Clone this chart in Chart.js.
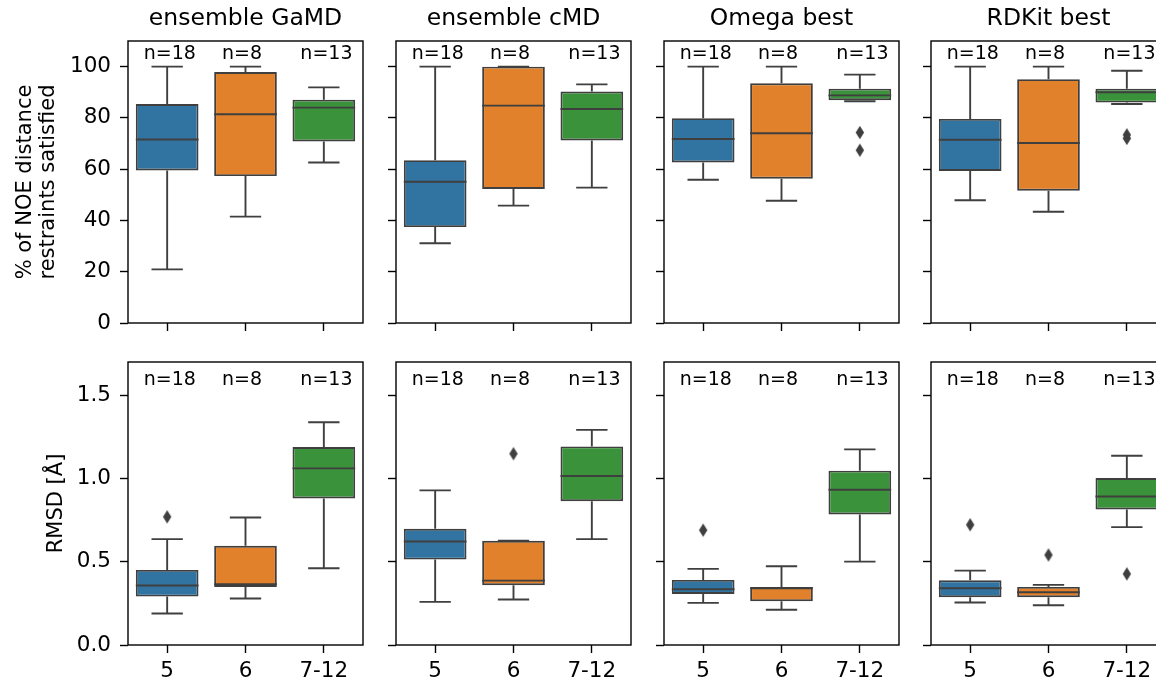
<!DOCTYPE html>
<html>
<head>
<meta charset="utf-8">
<script src="https://cdn.jsdelivr.net/npm/chart.js@4"></script>
<style>
  html, body { margin: 0; padding: 0; background: #fff; overflow: hidden; }
  body { width: 1156px; height: 681px; position: relative; }
  canvas { position: absolute; }
</style>
</head>
<body>
<script>
// ---- data -------------------------------------------------------------
const categories = ['5', '6', '7-12'];
const nCounts = [18, 8, 13];
const panelTitles = ['ensemble GaMD', 'ensemble cMD', 'Omega best', 'RDKit best'];
const boxColors = ['#3274a1', '#e1812c', '#3a923a'];

const noeTicks = [0, 20, 40, 60, 80, 100];
const rmsdTicks = [0, 0.5, 1.0, 1.5];

// box statistics per ring-size group: [whisker low, Q1, median, Q3, whisker high]
const noeGaMD  = [[20.9, 59.5, 71.6, 85.4, 100], [41.5, 57.3, 81.4, 97.9, 100], [62.6, 70.8, 84.0, 87.1, 91.9]];
const noeCMD   = [[31.1, 37.4, 55.1, 63.5, 100], [45.8, 52.3, 84.8, 100, 100], [52.8, 71.2, 83.5, 90.3, 93.1]];
const noeOmega = [[55.9, 62.6, 71.8, 79.9, 100], [47.7, 56.3, 74.0, 93.5, 100], [86.5, 86.9, 88.8, 91.4, 96.9]];
const noeRDKit = [[47.9, 59.3, 71.5, 79.6, 100], [43.4, 51.6, 70.2, 95.1, 100], [85.4, 86.0, 90.0, 91.4, 98.4]];

const noeGaMDOut  = [[], [], []];
const noeCMDOut   = [[], [], []];
const noeOmegaOut = [[], [], [74.3, 67.4]];
const noeRDKitOut = [[], [], [73.4, 72.0]];

const rmsdGaMD  = [[0.189, 0.291, 0.357, 0.451, 0.636], [0.279, 0.349, 0.365, 0.596, 0.766], [0.461, 0.880, 1.061, 1.189, 1.338]];
const rmsdCMD   = [[0.259, 0.513, 0.622, 0.698, 0.929], [0.273, 0.359, 0.387, 0.626, 0.626], [0.636, 0.864, 1.015, 1.193, 1.292]];
const rmsdOmega = [[0.253, 0.307, 0.335, 0.391, 0.457], [0.212, 0.263, 0.341, 0.349, 0.473], [0.501, 0.784, 0.933, 1.047, 1.175]];
const rmsdRDKit = [[0.255, 0.287, 0.341, 0.389, 0.447], [0.239, 0.287, 0.317, 0.349, 0.361], [0.708, 0.814, 0.892, 1.003, 1.137]];

const rmsdGaMDOut  = [[0.770], [], []];
const rmsdCMDOut   = [[], [1.149], []];
const rmsdOmegaOut = [[0.690], [], []];
const rmsdRDKitOut = [[0.722], [0.541], [0.427]];

// ---- layout -------------------------------------------------------------
const FONT = "'DejaVu Sans', sans-serif";
const EDGE = '#3f3f3f';
const colLefts = [128, 396, 664, 931];
const plotW = 235;
const rows = [
  { top: 41, bottom: 323, max: 110, ticks: noeTicks, fmt: v => String(v), nY: 104.8,
    yTitle: ['% of NOE distance', 'restraints satisfied'], yTitlePad: 14,
    stats: [noeGaMD, noeCMD, noeOmega, noeRDKit],
    outliers: [noeGaMDOut, noeCMDOut, noeOmegaOut, noeRDKitOut] },
  { top: 362, bottom: 645, max: 1.7, ticks: rmsdTicks, fmt: v => v.toFixed(1), nY: 1.59,
    yTitle: 'RMSD [Å]', yTitlePad: 45,
    stats: [rmsdGaMD, rmsdCMD, rmsdOmega, rmsdRDKit],
    outliers: [rmsdGaMDOut, rmsdCMDOut, rmsdOmegaOut, rmsdRDKitOut] }
];

// thin diamond marker for fliers
const diamond = document.createElement('canvas');
diamond.width = 10; diamond.height = 15;
(() => {
  const c = diamond.getContext('2d');
  c.fillStyle = EDGE;
  c.beginPath();
  c.moveTo(5, 0.8); c.lineTo(9.2, 7.5); c.lineTo(5, 14.2); c.lineTo(0.8, 7.5);
  c.closePath(); c.fill();
})();

// whiskers, caps and medians drawn through the chart's own scales
const boxWhiskers = {
  id: 'boxWhiskers',
  afterDatasetsDraw(chart, args, opts) {
    const { ctx, scales: { x, y } } = chart;
    ctx.save();
    ctx.strokeStyle = EDGE;
    ctx.lineWidth = 1.9;
    ctx.lineCap = 'butt';
    opts.stats.forEach((s, i) => {
      const [lo, q1, med, q3, hi] = s;
      const cx = x.getPixelForValue(i);
      const capL = x.getPixelForValue(i - 0.2), capR = x.getPixelForValue(i + 0.2);
      const boxL = x.getPixelForValue(i - 0.4), boxR = x.getPixelForValue(i + 0.4);
      ctx.beginPath();
      ctx.moveTo(cx, y.getPixelForValue(q3)); ctx.lineTo(cx, y.getPixelForValue(hi));
      ctx.moveTo(cx, y.getPixelForValue(q1)); ctx.lineTo(cx, y.getPixelForValue(lo));
      ctx.moveTo(capL, y.getPixelForValue(hi)); ctx.lineTo(capR, y.getPixelForValue(hi));
      ctx.moveTo(capL, y.getPixelForValue(lo)); ctx.lineTo(capR, y.getPixelForValue(lo));
      ctx.moveTo(boxL, y.getPixelForValue(med)); ctx.lineTo(boxR, y.getPixelForValue(med));
      ctx.stroke();
    });
    ctx.restore();
  }
};

// group size annotations
const groupCounts = {
  id: 'groupCounts',
  afterDatasetsDraw(chart, args, opts) {
    const { ctx, scales: { x, y } } = chart;
    ctx.save();
    ctx.font = `19px ${FONT}`;
    ctx.fillStyle = '#000';
    ctx.textAlign = 'left';
    ctx.textBaseline = 'middle';
    nCounts.forEach((n, i) => {
      ctx.fillText('n=' + n, x.getPixelForValue(i - 0.3), y.getPixelForValue(opts.y));
    });
    ctx.restore();
  }
};

// axes frame (all four spines)
const frame = {
  id: 'frame',
  afterDraw(chart) {
    const { ctx, chartArea: a } = chart;
    ctx.save();
    ctx.strokeStyle = '#000';
    ctx.lineWidth = 1.4;
    ctx.strokeRect(a.left, a.top, a.right - a.left, a.bottom - a.top);
    ctx.restore();
  }
};

const TITLE_SIZE = 23.5;
const TICK_SIZE = 21.5;

rows.forEach((row, r) => {
  colLefts.forEach((left, c) => {
    const L = c === 0 ? left : 40;
    const R = 12;
    const topSpace = r === 0 ? row.top : 14;
    const xH = r === 0 ? 14 : 681 - row.bottom;
    const plotH = row.bottom - row.top;
    const cv = document.createElement('canvas');
    const W = L + plotW + R, H = topSpace + plotH + xH;
    cv.width = W; cv.height = H;
    cv.style.left = (left - L) + 'px';
    cv.style.top = (row.top - topSpace) + 'px';
    cv.style.width = W + 'px'; cv.style.height = H + 'px';
    document.body.appendChild(cv);

    const stats = row.stats[c];
    const outs = row.outliers[c];
    const outPts = [];
    outs.forEach((vals, i) => vals.forEach(v => outPts.push({ x: categories[i], y: v })));

    const titlePadTop = 5;
    const titlePadBottom = topSpace - titlePadTop - TITLE_SIZE * 1.2;

    new Chart(cv, {
      type: 'bar',
      data: {
        labels: categories,
        datasets: [
          {
            type: 'bar',
            data: stats.map(s => [s[1], s[3]]),
            backgroundColor: boxColors,
            borderColor: EDGE,
            borderWidth: 1.9,
            borderSkipped: false,
            categoryPercentage: 0.8,
            barPercentage: 1.0,
            order: 2
          },
          {
            type: 'line',
            data: outPts,
            showLine: false,
            pointStyle: diamond,
            pointRadius: 5,
            pointHoverRadius: 5,
            order: 1
          }
        ]
      },
      options: {
        responsive: false,
        devicePixelRatio: 1,
        animation: false,
        events: [],
        layout: { padding: { left: 0, right: R, top: r === 0 ? 0 : topSpace, bottom: 0 } },
        scales: {
          x: {
            type: 'category',
            offset: true,
            grid: { display: true, drawOnChartArea: false, drawTicks: true, tickLength: 8, tickWidth: 1.4, tickColor: '#000', offset: false },
            border: { display: false },
            ticks: { display: r === 1, color: '#000', padding: 6, font: { family: FONT, size: TICK_SIZE } },
            afterFit: s => { s.height = xH; s.paddingLeft = 0; s.paddingRight = 0; }
          },
          y: {
            type: 'linear',
            min: 0,
            max: row.max,
            grid: { display: true, drawOnChartArea: false, drawTicks: true, tickLength: 8, tickWidth: 1.4, tickColor: '#000' },
            border: { display: false },
            ticks: { display: c === 0, color: '#000', padding: 9, font: { family: FONT, size: TICK_SIZE }, callback: v => row.fmt(v) },
            afterBuildTicks: s => { s.ticks = row.ticks.map(v => ({ value: v })); },
            title: {
              display: c === 0,
              text: row.yTitle,
              color: '#000',
              font: { family: FONT, size: 21, lineHeight: 1.1 },
              padding: { top: row.yTitlePad, bottom: 0 }
            },
            afterFit: s => { s.width = L; s.paddingTop = 0; s.paddingBottom = 0; }
          }
        },
        plugins: {
          legend: { display: false },
          tooltip: { enabled: false },
          title: {
            display: r === 0,
            fullSize: false,
            text: panelTitles[c],
            color: '#000',
            font: { family: FONT, size: TITLE_SIZE, weight: 'normal', lineHeight: 1.2 },
            padding: { top: titlePadTop, bottom: titlePadBottom }
          },
          boxWhiskers: { stats },
          groupCounts: { y: row.nY }
        }
      },
      plugins: [boxWhiskers, groupCounts, frame]
    });
  });
});
</script>
</body>
</html>
